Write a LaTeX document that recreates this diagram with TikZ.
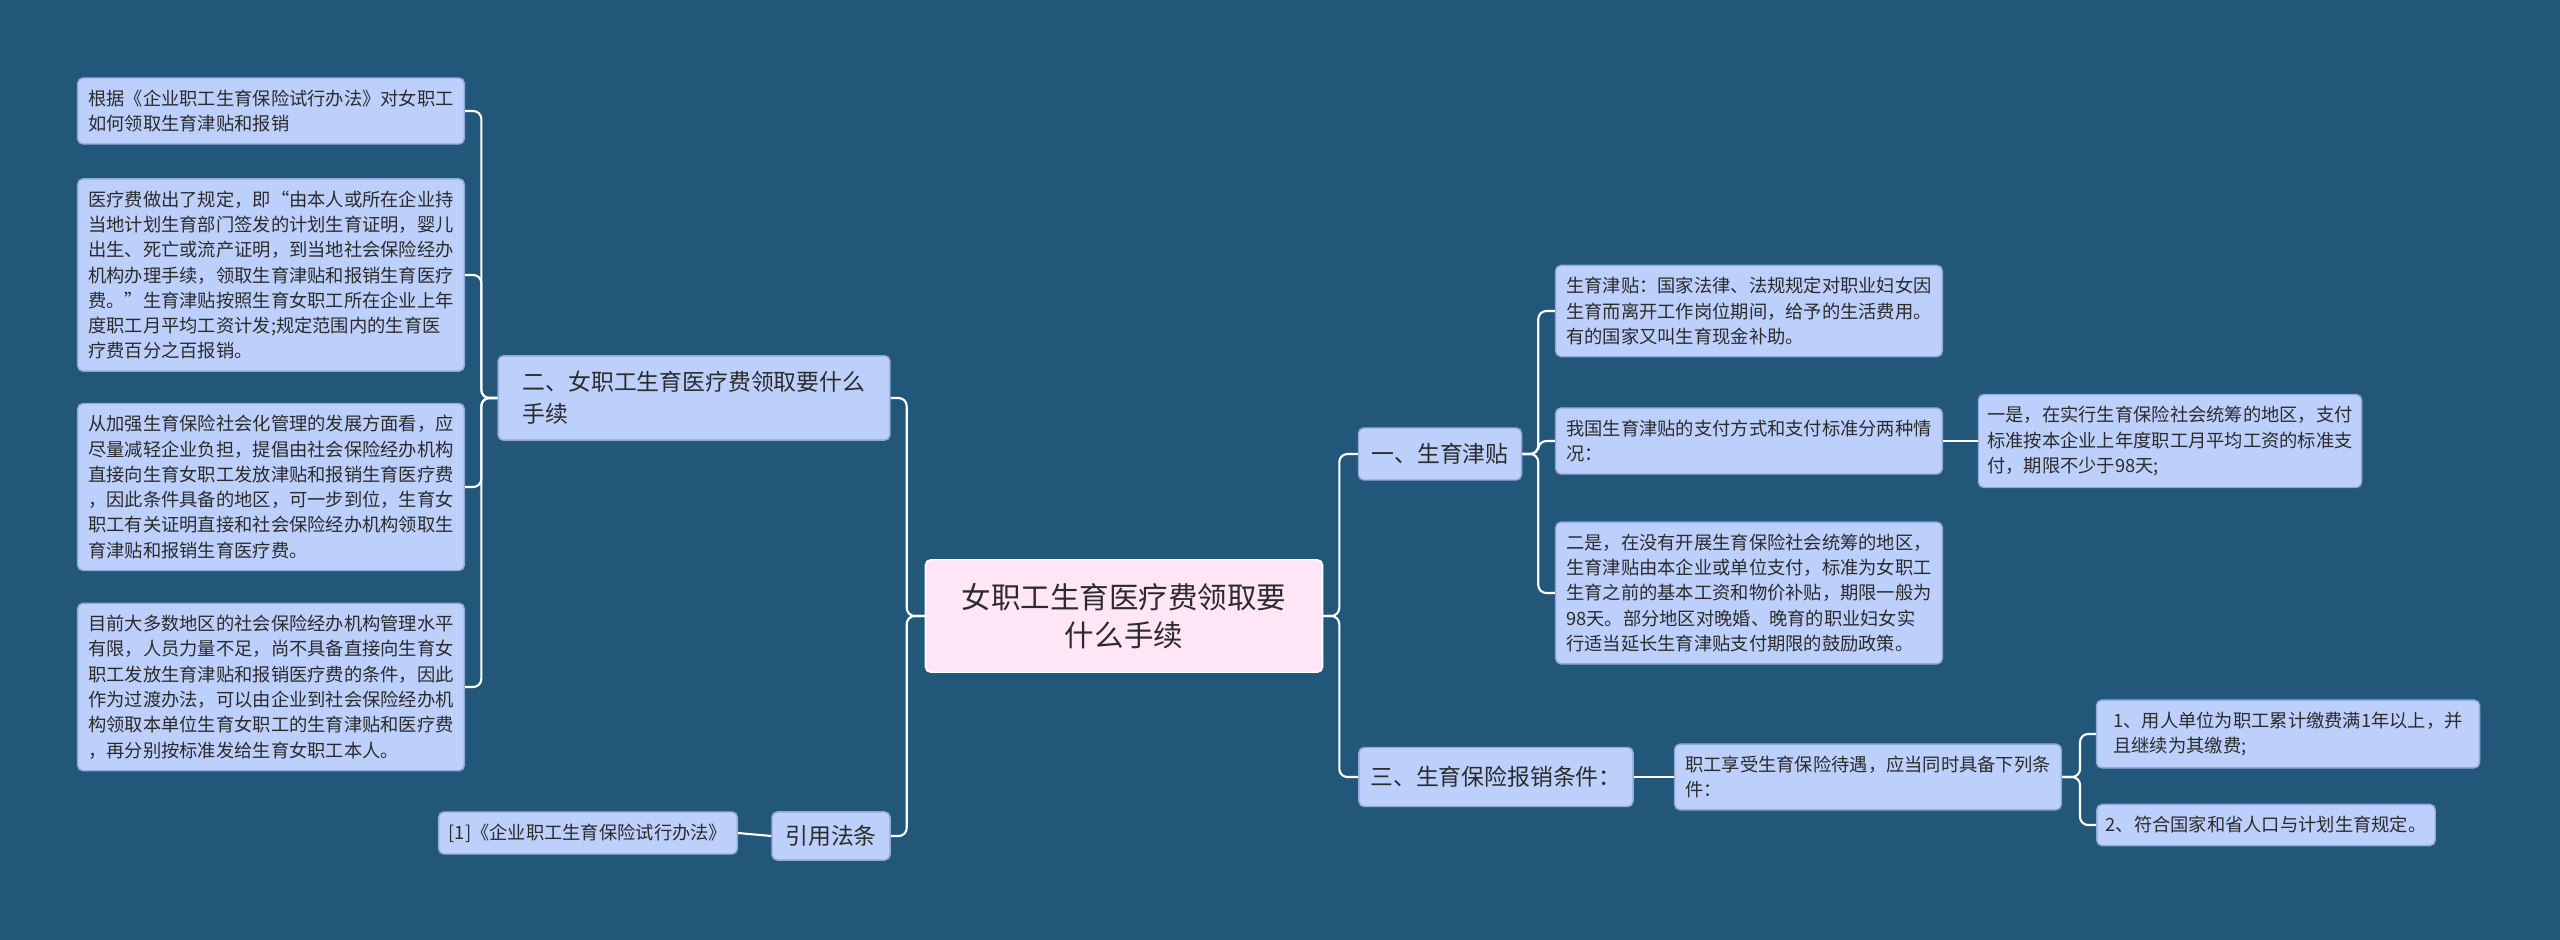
\documentclass[tikz,border=0pt]{standalone}
\usepackage{fontspec}
\setmainfont{Noto Sans CJK SC}
\definecolor{bg}{HTML}{235779}
\definecolor{boxf}{HTML}{BDD0FB}
\definecolor{boxd}{HTML}{8FA9DD}
\definecolor{pinkf}{HTML}{FFE6F7}
\definecolor{txt}{HTML}{2B2B2B}
\begin{document}
\begin{tikzpicture}[x=0.2845pt,y=-0.2845pt,
  base/.style={draw=boxd,fill=boxf,rounded corners=1.5pt,line width=0.4pt,text=txt,align=left,inner xsep=2.5pt},
  leaf/.style={base,font=\fontsize{5.2pt}{7.2pt}\selectfont},
  mid/.style={base,font=\fontsize{6.5pt}{9pt}\selectfont},
  conn/.style={draw=white,line width=0.6pt,rounded corners=2.3pt}]
\fill[bg] (0,0) rectangle (2560,940);
\useasboundingbox (0,0) rectangle (2560,940);
\node[base,fill=pinkf,draw=white,font=\fontsize{8.4pt}{11pt}\selectfont,align=center,minimum width=113pt,minimum height=32pt] (c) at (1124,616) {女职工生育医疗费领取要\\什么手续};
\node[mid,minimum width=111.5pt,minimum height=24pt] (L1) at (694,398) {二、女职工生育医疗费领取要什么\\手续\hspace{68pt}};
\node[leaf,minimum width=110pt,minimum height=18.8pt] (l1) at (271,111) {根据《企业职工生育保险试行办法》对女职工\\如何领取生育津贴和报销\hspace{44pt}};
\node[leaf,minimum width=110pt,minimum height=52pt] (l2) at (271,275) {医疗费做出了规定，即“由本人或所在企业持\\当地计划生育部门签发的计划生育证明，婴儿\\出生、死亡或流产证明，到当地社会保险经办\\机构办理手续，领取生育津贴和报销生育医疗\\费。”生育津贴按照生育女职工所在企业上年\\度职工月平均工资计发;规定范围内的生育医\\疗费百分之百报销。};
\node[leaf,minimum width=110pt,minimum height=45pt] (l3) at (271,487) {从加强生育保险社会化管理的发展方面看，应\\尽量减轻企业负担，提倡由社会保险经办机构\\直接向生育女职工发放津贴和报销生育医疗费\\，因此条件具备的地区，可一步到位，生育女\\职工有关证明直接和社会保险经办机构领取生\\育津贴和报销生育医疗费。};
\node[leaf,minimum width=110pt,minimum height=45.5pt] (l4) at (271,687) {目前大多数地区的社会保险经办机构管理水平\\有限，人员力量不足，尚不具备直接向生育女\\职工发放生育津贴和报销医疗费的条件，因此\\作为过渡办法，可以由企业到社会保险经办机\\构领取本单位生育女职工的生育津贴和医疗费\\，再分别按标准发给生育女职工本人。};
\node[mid,minimum width=33.6pt,minimum height=13.7pt,align=center] (cite) at (831,836) {引用法条};
\node[leaf,minimum width=85pt,minimum height=11.7pt,align=center] (ref) at (588,833) {[1]《企业职工生育保险试行办法》};
\node[mid,minimum width=46.4pt,minimum height=14.8pt,align=center] (R1) at (1440,454) {一、生育津贴};
\node[leaf,minimum width=110pt,minimum height=25.6pt] (r1) at (1749,311) {生育津贴：国家法律、法规规定对职业妇女因\\生育而离开工作岗位期间，给予的生活费用。\\有的国家又叫生育现金补助。\hspace{31pt}};
\node[leaf,minimum width=110pt,minimum height=18.8pt] (r2) at (1749,441) {我国生育津贴的支付方式和支付标准分两种情\\况：\hspace{94pt}};
\node[leaf,minimum width=110pt,minimum height=38.4pt] (r3) at (1749,593) {二是，在没有开展生育保险社会统筹的地区，\\生育津贴由本企业或单位支付，标准为女职工\\生育之前的基本工资和物价补贴，期限一般为\\98天。部分地区对晚婚、晚育的职业妇女实\\行适当延长生育津贴支付期限的鼓励政策。};
\node[leaf,minimum width=108.7pt,minimum height=25pt] (r2c) at (2170,441) {一是，在实行生育保险社会统筹的地区，支付\\标准按本企业上年度职工月平均工资的标准支\\付，期限不少于98天;\hspace{50pt}};
\node[mid,minimum width=78pt,minimum height=16.8pt,align=center] (R3) at (1496,777) {三、生育保险报销条件：};
\node[leaf,minimum width=110pt,minimum height=18.2pt] (q) at (1868,777) {职工享受生育保险待遇，应当同时具备下列条\\件：\hspace{94pt}};
\node[leaf,minimum width=109pt,minimum height=18.2pt] (c1) at (2288,734) {1、用人单位为职工累计缴费满1年以上，并\\且继续为其缴费;\hspace{56pt}};
\node[leaf,minimum width=96pt,minimum height=11.7pt] (c2) at (2266,825) {2、符合国家和省人口与计划生育规定。};
% connectors
\foreach \t in {L1,cite} \draw[conn] (c.west) -- ++(-18,0) |- (\t.east);
\foreach \t in {R1,R3} \draw[conn] (c.east) -- ++(16,0) |- (\t.west);
\foreach \t in {l1,l2,l3,l4} \draw[conn] (L1.west) -- ++(-16,0) |- (\t.east);
\draw[conn] (cite.west) -- (ref.east);
\foreach \t in {r1,r2,r3} \draw[conn] (R1.east) -- ++(16,0) |- (\t.west);
\draw[conn] (r2.east) -- (r2c.west);
\draw[conn] (R3.east) -- (q.west);
\foreach \t in {c1,c2} \draw[conn] (q.east) -- ++(18,0) |- (\t.west);
\end{tikzpicture}
\end{document}
